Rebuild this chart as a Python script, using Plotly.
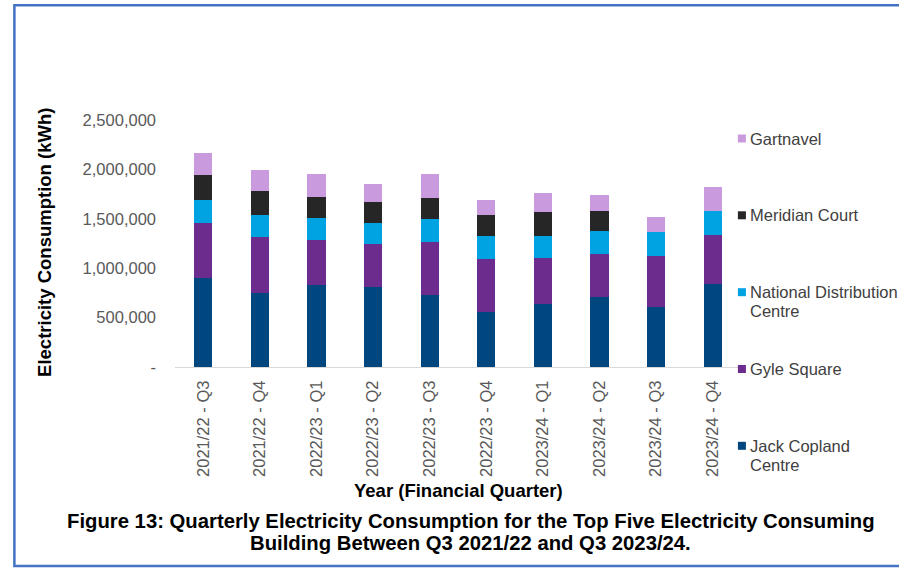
import plotly.graph_objects as go

# Quarterly electricity consumption (kWh) for the five largest-consuming buildings
quarters = ["2021/22 - Q3", "2021/22 - Q4", "2022/23 - Q1", "2022/23 - Q2", "2022/23 - Q3",
            "2022/23 - Q4", "2023/24 - Q1", "2023/24 - Q2", "2023/24 - Q3", "2023/24 - Q4"]

jack_copland = [901000, 753000, 827000, 807000, 729000, 561000, 635000, 705000, 611000, 840000]
gyle_square = [556000, 560000, 462000, 435000, 536000, 532000, 472000, 439000, 509000, 496000]
national_distribution = [230000, 229000, 216000, 215000, 230000, 230000, 216000, 229000, 243000, 243000]
meridian_court = [260000, 243000, 220000, 210000, 220000, 219000, 246000, 210000, 0, 0]
gartnavel = [219000, 206000, 232000, 182000, 242000, 145000, 196000, 155000, 159000, 243000]

series_names = ["Jack Copland Centre", "Gyle Square", "National Distribution Centre",
                "Meridian Court", "Gartnavel"]
series_values = [jack_copland, gyle_square, national_distribution, meridian_court, gartnavel]
series_colors = ["#00467F", "#6C2C8E", "#00A3E2", "#262626", "#C99BDE"]
legend_lines = [["Jack Copland", "Centre"], ["Gyle Square"], ["National Distribution", "Centre"],
                ["Meridian Court"], ["Gartnavel"]]

y_tickvals = [0, 500000, 1000000, 1500000, 2000000, 2500000]
y_ticktext = ["-", "500,000", "1,000,000", "1,500,000", "2,000,000", "2,500,000"]

FONT = "Liberation Sans, Arial, sans-serif"
W, H = 899, 569
L, R, T, B = 175, 740.6, 120, 367   # plot area edges in pixels


def px(x):
    return (x - L) / (R - L)


def py(y):
    return (B - y) / (B - T)


fig = go.Figure()
for name, vals, col in zip(series_names, series_values, series_colors):
    fig.add_trace(go.Bar(x=quarters, y=vals, name=name, marker_color=col,
                         marker_line_width=0, width=0.32, showlegend=False))

fig.update_layout(
    barmode="stack",
    width=W, height=H,
    margin=dict(l=L, r=W - R, t=T, b=H - B, autoexpand=False),
    paper_bgcolor="white", plot_bgcolor="white",
    font=dict(family=FONT, size=16.5, color="#595959"),
    xaxis=dict(tickangle=-90, showgrid=False, showline=True, linecolor="#D9D9D9",
               linewidth=1, ticks="", ticklabelstandoff=6, automargin=False,
               tickfont=dict(size=16.5, color="#595959")),
    yaxis=dict(range=[0, 2500000], tickvals=y_tickvals, ticktext=y_ticktext,
               showgrid=False, zeroline=False, showline=False, ticks="",
               ticklabelstandoff=18, automargin=False,
               tickfont=dict(size=16.5, color="#595959")),
)

shapes = []
annotations = []

# outer frame
shapes.append(dict(type="rect", xref="paper", yref="paper",
                   x0=px(14.5), x1=px(915), y0=py(566), y1=py(5.3),
                   line=dict(color="#4472C4", width=2.5), fillcolor="rgba(0,0,0,0)", layer="below"))

# legend, top entry first
centers = [138.5, 215.3, 292.2, 369.0, 445.8]
for i, idx in enumerate(reversed(range(len(series_names)))):
    c = centers[i]
    shapes.append(dict(type="rect", xref="paper", yref="paper",
                       x0=px(737.5), x1=px(745.5), y0=py(c + 4), y1=py(c - 4),
                       line=dict(width=0), fillcolor=series_colors[idx]))
    for j, line in enumerate(legend_lines[idx]):
        annotations.append(dict(text=line, xref="paper", yref="paper",
                                x=px(747.5), y=py(c + 19 * j), xanchor="left", yanchor="middle",
                                showarrow=False, font=dict(family=FONT, size=16.5, color="#404040")))

# axis titles
annotations.append(dict(text="<b>Electricity Consumption (kWh)</b>", xref="paper", yref="paper",
                        x=px(44), y=py(242), textangle=-90, xanchor="center", yanchor="middle",
                        showarrow=False, font=dict(family=FONT, size=18.5, color="#000000")))
annotations.append(dict(text="<b>Year (Financial Quarter)</b>", xref="paper", yref="paper",
                        x=px(458), y=py(491), xanchor="center", yanchor="middle",
                        showarrow=False, font=dict(family=FONT, size=18.5, color="#000000")))

# figure caption
caption = ["Figure 13: Quarterly Electricity Consumption for the Top Five Electricity Consuming",
           "Building Between Q3 2021/22 and Q3 2023/24."]
for k, line in enumerate(caption):
    annotations.append(dict(text="<b>" + line + "</b>", xref="paper", yref="paper",
                            x=px(470.5), y=py(521 + 22 * k), xanchor="center", yanchor="middle",
                            showarrow=False, font=dict(family=FONT, size=20.3, color="#000000")))

fig.update_layout(shapes=shapes, annotations=annotations)
fig.write_html("out.html")
